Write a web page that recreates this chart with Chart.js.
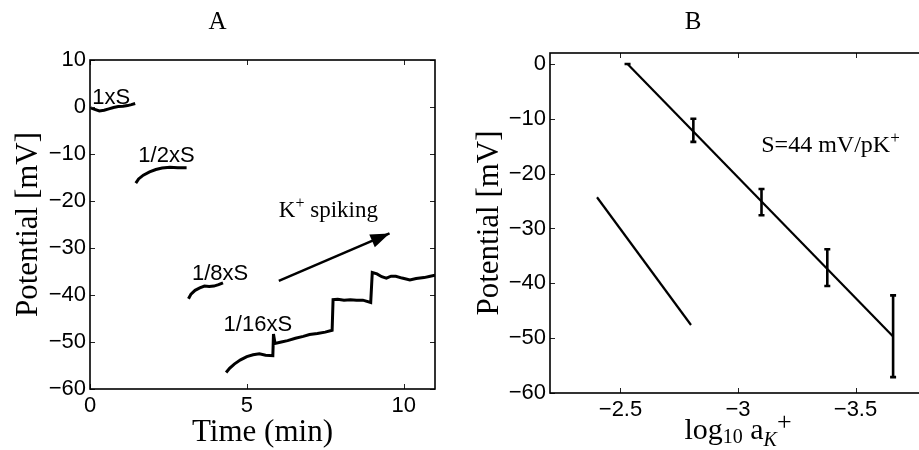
<!DOCTYPE html>
<html><head><meta charset="utf-8">
<script src="https://cdn.jsdelivr.net/npm/chart.js@4"></script>
<style>
html,body{margin:0;padding:0;width:919px;height:450px;overflow:hidden;background:#fff;}
#wa{position:absolute;left:0;top:0;width:450px;height:450px;}
#wb{position:absolute;left:460px;top:0;width:482px;height:450px;}
</style></head><body>
<div id="wa"><canvas id="ca" width="450" height="450"></canvas></div>
<div id="wb"><canvas id="cb" width="482" height="450"></canvas></div>
<script>
// ---------- Panel A data ----------
const aXTicks = [0, 5, 10];
const aYTicks = [-60, -50, -40, -30, -20, -10, 0, 10];
const trace1xS = [[0.02,-0.2],[0.15,-0.5],[0.3,-0.85],[0.45,-0.7],[0.6,-0.4],[0.75,-0.1],[0.9,0.1],[1.05,0.15],[1.2,0.3],[1.32,0.5],[1.44,0.75]];
const trace1_2xS = [[1.46,-16.2],[1.55,-15.3],[1.7,-14.5],[1.9,-13.8],[2.1,-13.3],[2.3,-13.0],[2.55,-12.8],[2.8,-12.9],[3.08,-12.9]];
const trace1_8xS = [[3.14,-40.8],[3.22,-39.8],[3.35,-39.0],[3.5,-38.5],[3.65,-38.1],[3.8,-38.2],[3.95,-38.1],[4.1,-37.8],[4.24,-37.4]];
const trace1_16xS = [[4.34,-56.5],[4.45,-55.6],[4.6,-54.7],[4.8,-53.8],[5.0,-53.1],[5.2,-52.7],[5.4,-52.5],[5.6,-52.8],[5.83,-52.9],[5.85,-48.3],[5.9,-50.3],[6.1,-50.0],[6.3,-49.7],[6.55,-49.2],[6.8,-48.8],[7.0,-48.4],[7.25,-48.2],[7.5,-47.9],[7.72,-47.5],[7.75,-41.0],[7.9,-40.9],[8.1,-41.1],[8.3,-41.0],[8.5,-41.1],[8.7,-41.1],[8.95,-41.6],[9.0,-35.2],[9.15,-35.5],[9.3,-36.1],[9.45,-36.4],[9.6,-36.0],[9.75,-36.0],[9.95,-36.4],[10.2,-36.8],[10.4,-36.5],[10.65,-36.3],[10.85,-36.0],[11.0,-35.8]];
const aLabels = ['1xS', '1/2xS', '1/8xS', '1/16xS'];
const aLabelAnchors = [[0.07,0.55],[1.54,-11.7],[3.25,-36.9],[4.26,-47.7]];
const arrowFrom = [6.02, -37.0];
const arrowTo = [9.55, -26.9];
const spikeLabelAnchor = [6.02, -23.4];

// ---------- Panel B data ----------
const bXTicks = [-2.5, -3, -3.5];
const bYTicks = [-60, -50, -40, -30, -20, -10, 0];
const bX = [-2.53, -2.81, -3.10, -3.38, -3.66];
const bY = [0, -12.0, -25.2, -37.0, -49.5];
const bLow = [0, -14.2, -27.6, -40.5, -57.1];
const bHigh = [0, -10.0, -22.8, -33.8, -42.2];
const fitX = [-2.53, -3.66];
const fitY = [0, -49.7];
const refX = [-2.40, -2.80];
const refY = [-24.3, -47.6];
const slopeLabelAnchor = [-3.099, -16.0];

const sans = "'Liberation Sans', Arial, Helvetica, sans-serif";
const serif = "'Liberation Serif', 'Times New Roman', serif";
function fmt(v){ return (v < 0 ? '\u2212' : '') + String(Math.abs(v)); }
function pts(arr){ return arr.map(p => ({x:p[0], y:p[1]})); }
function zip(xs, ys){ return xs.map((v,i) => ({x:v, y:ys[i]})); }

function drawRich(ctx, x, y, parts, align){
  let total = 0;
  parts.forEach(p => { ctx.font = (p.style||'normal') + ' ' + p.size + 'px ' + serif; p.w = ctx.measureText(p.t).width; total += p.w; });
  let cx = align === 'center' ? x - total/2 : x;
  ctx.textBaseline = 'alphabetic'; ctx.textAlign = 'left';
  parts.forEach(p => { ctx.font = (p.style||'normal') + ' ' + p.size + 'px ' + serif; ctx.fillText(p.t, cx, y + (p.dy||0)); cx += p.w; });
}

const framePlugin = {
  id: 'frame',
  afterDatasetsDraw(chart){
    const {ctx, chartArea:a, scales:{x, y}} = chart;
    ctx.save();
    ctx.strokeStyle = '#222'; ctx.lineWidth = 1;
    ctx.beginPath();
    x.ticks.forEach(t => { const px = Math.round(x.getPixelForValue(t.value)) + 0.5;
      ctx.moveTo(px, a.bottom); ctx.lineTo(px, a.bottom - 5);
      ctx.moveTo(px, a.top); ctx.lineTo(px, a.top + 5); });
    y.ticks.forEach(t => { const py = Math.round(y.getPixelForValue(t.value)) + 0.5;
      ctx.moveTo(a.left, py); ctx.lineTo(a.left + 5, py);
      ctx.moveTo(a.right, py); ctx.lineTo(a.right - 5, py); });
    ctx.stroke();
    ctx.strokeStyle = '#000'; ctx.lineWidth = 1.6;
    ctx.strokeRect(a.left, a.top, a.right - a.left, a.bottom - a.top);
    ctx.restore();
  }
};

const annotA = {
  id: 'annotA',
  afterDatasetsDraw(chart){
    const {ctx, scales:{x, y}} = chart;
    ctx.save();
    ctx.fillStyle = '#000';
    ctx.font = '22px ' + sans; ctx.textAlign = 'left'; ctx.textBaseline = 'alphabetic';
    aLabels.forEach((s,i) => ctx.fillText(s, x.getPixelForValue(aLabelAnchors[i][0]), y.getPixelForValue(aLabelAnchors[i][1])));
    const x0 = x.getPixelForValue(arrowFrom[0]), y0 = y.getPixelForValue(arrowFrom[1]);
    const x1 = x.getPixelForValue(arrowTo[0]), y1 = y.getPixelForValue(arrowTo[1]);
    const ang = Math.atan2(y1 - y0, x1 - x0), L = 19, W = 7;
    ctx.beginPath();
    ctx.moveTo(x1, y1);
    ctx.lineTo(x1 - L*Math.cos(ang) + W*Math.sin(ang), y1 - L*Math.sin(ang) - W*Math.cos(ang));
    ctx.lineTo(x1 - L*Math.cos(ang) - W*Math.sin(ang), y1 - L*Math.sin(ang) + W*Math.cos(ang));
    ctx.closePath(); ctx.fill();
    drawRich(ctx, x.getPixelForValue(spikeLabelAnchor[0]), y.getPixelForValue(spikeLabelAnchor[1]),
      [{t:'K', size:23}, {t:'+', size:16, dy:-9}, {t:' spiking', size:23}], 'left');
    ctx.restore();
  }
};

const annotB = {
  id: 'annotB',
  afterDatasetsDraw(chart){
    const {ctx, chartArea:a, scales:{x, y}} = chart;
    ctx.save();
    ctx.strokeStyle = '#000'; ctx.fillStyle = '#000'; ctx.lineWidth = 2.6;
    ctx.beginPath();
    bX.forEach((v,i) => {
      const px = x.getPixelForValue(v), p1 = y.getPixelForValue(bLow[i]), p2 = y.getPixelForValue(bHigh[i]);
      ctx.moveTo(px, p1); ctx.lineTo(px, p2);
      ctx.moveTo(px - 3, p1); ctx.lineTo(px + 3, p1);
      ctx.moveTo(px - 3, p2); ctx.lineTo(px + 3, p2);
    });
    ctx.stroke();
    drawRich(ctx, x.getPixelForValue(slopeLabelAnchor[0]), y.getPixelForValue(slopeLabelAnchor[1]),
      [{t:'S=44 mV/pK', size:24}, {t:'+', size:17, dy:-9}], 'left');
    drawRich(ctx, (a.left + a.right)/2, 439,
      [{t:'log', size:30}, {t:'10', size:20, dy:4}, {t:' a', size:30}, {t:'K', size:20, dy:7, style:'italic'}, {t:'+', size:26, dy:-9}], 'center');
    ctx.restore();
  }
};

function lineDs(data, w){ return {data, showLine:true, borderColor:'#000', backgroundColor:'#000', borderWidth:w, pointRadius:0, fill:false, tension:0}; }

function axisCommon(ticksArr, fixed, horiz){
  return {
    type:'linear',
    afterBuildTicks: s => { s.ticks = ticksArr.map(v => ({value:v})); },
    afterFit: s => { if (horiz) s.height = fixed; else s.width = fixed; },
    grid:{display:false, drawTicks:false}, border:{display:false},
    ticks:{color:'#000', font:{family:sans, size:22}, padding: horiz ? 4 : 4, callback: v => fmt(v), maxRotation:0, autoSkip:false}
  };
}

new Chart(document.getElementById('ca'), {
  type:'scatter',
  data:{datasets:[
    lineDs(pts(trace1xS), 3), lineDs(pts(trace1_2xS), 3), lineDs(pts(trace1_8xS), 3), lineDs(pts(trace1_16xS), 3),
    lineDs(pts([arrowFrom, arrowTo]), 2.5)
  ]},
  options:{
    responsive:false, animation:false, devicePixelRatio:1,
    layout:{padding:{left:0, right:15, top:0, bottom:0}},
    plugins:{legend:{display:false}, tooltip:{enabled:false},
      title:{display:true, text:'A', color:'#000', font:{family:serif, size:25, weight:'normal'}, padding:{top:7, bottom:23}}},
    scales:{
      x: Object.assign(axisCommon(aXTicks, 61, true), {min:0, max:11,
        title:{display:true, text:'Time (min)', color:'#000', font:{family:serif, size:31}, padding:{top:0, bottom:-1}}}),
      y: Object.assign(axisCommon(aYTicks, 90, false), {min:-60, max:10,
        title:{display:true, text:'Potential [mV]', color:'#000', font:{family:serif, size:31}, padding:{top:10, bottom:0}}})
    }
  },
  plugins:[framePlugin, annotA]
});

new Chart(document.getElementById('cb'), {
  type:'scatter',
  data:{datasets:[
    lineDs(zip(fitX, fitY), 2.2), lineDs(zip(refX, refY), 2.2)
  ]},
  options:{
    responsive:false, animation:false, devicePixelRatio:1,
    layout:{padding:{left:0, right:16, top:0, bottom:0}},
    plugins:{legend:{display:false}, tooltip:{enabled:false},
      title:{display:true, text:'B', color:'#000', font:{family:serif, size:25, weight:'normal'}, padding:{top:7, bottom:16}}},
    scales:{
      x: Object.assign(axisCommon(bXTicks, 57, true), {min:-3.8, max:-2.2, reverse:true}),
      y: Object.assign(axisCommon(bYTicks, 90, false), {min:-60, max:2,
        title:{display:true, text:'Potential [mV]', color:'#000', font:{family:serif, size:31}, padding:{top:11, bottom:0}}})
    }
  },
  plugins:[framePlugin, annotB]
});
</script>
</body></html>
